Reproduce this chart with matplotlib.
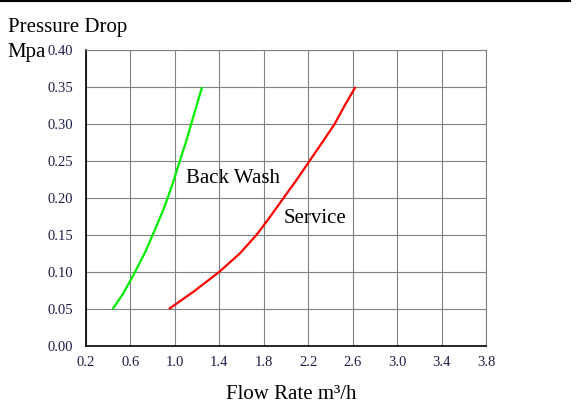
import matplotlib
matplotlib.use("Agg")
import matplotlib.pyplot as plt

# curves
backwash_flow = [0.44, 0.535, 0.634, 0.73, 0.82, 0.904, 0.97, 1.036, 1.104, 1.164, 1.245]
backwash_drop = [0.05, 0.071, 0.098, 0.126, 0.157, 0.187, 0.215, 0.246, 0.278, 0.309, 0.35]
service_flow = [0.946, 1.164, 1.398, 1.584, 1.734, 1.854, 1.973, 2.093, 2.207, 2.33, 2.438, 2.528, 2.625]
service_drop = [0.05, 0.073, 0.10, 0.125, 0.15, 0.174, 0.199, 0.224, 0.249, 0.276, 0.30, 0.325, 0.35]

x_ticks = [0.2, 0.6, 1.0, 1.4, 1.8, 2.2, 2.6, 3.0, 3.4, 3.8]
y_ticks = [0.00, 0.05, 0.10, 0.15, 0.20, 0.25, 0.30, 0.35, 0.40]

plt.rcParams["font.family"] = ["Liberation Serif", "DejaVu Serif"]
tick_color = "#1c1c48"

fig = plt.figure(figsize=(5.79, 4.12), dpi=100)
ax = fig.add_axes([86 / 579, 66 / 412, 400 / 579, 296 / 412])

ax.plot(backwash_flow, backwash_drop, color="#00ee00", lw=1.6, solid_capstyle="butt")
ax.plot(service_flow, service_drop, color="#ff0000", lw=1.6, solid_capstyle="butt")

ax.set_xlim(0.2, 3.8)
ax.set_ylim(0, 0.4)
ax.set_xticks(x_ticks)
ax.set_yticks(y_ticks)
ax.set_xticklabels([f"{v:.1f}" for v in x_ticks])
ax.set_yticklabels([f"{v:.2f}" for v in y_ticks])
ax.tick_params(length=0, labelsize=10.5, colors=tick_color)
ax.tick_params(axis="y", pad=9)
ax.tick_params(axis="x", pad=7)
ax.grid(True, color="#808080", lw=0.8)
ax.set_axisbelow(True)

for side in ["top", "right"]:
    ax.spines[side].set_color("#808080")
    ax.spines[side].set_linewidth(0.8)
for side in ["left", "bottom"]:
    ax.spines[side].set_color("black")
    ax.spines[side].set_linewidth(1.2)

ax.text(1.10, 0.226, "Back Wash", fontsize=15, va="center", ha="left")
ax.text(1.98, 0.172, "Service", fontsize=15, va="center", ha="left")

fig.text(8 / 579, 1 - 32 / 412, "Pressure Drop", fontsize=15, va="baseline", ha="left")
fig.text(7 / 579, 1 - 57 / 412, "Mpa", fontsize=15, va="baseline", ha="left")
fig.text(291 / 579, 1 - 399 / 412, "Flow Rate m³/h", fontsize=15, va="baseline", ha="center")

# black rule along the top edge
fig.add_artist(plt.Line2D([0, 570 / 579], [1 - 1 / 412, 1 - 1 / 412], color="black", lw=1.5))

fig.savefig("out.png", dpi=100)
